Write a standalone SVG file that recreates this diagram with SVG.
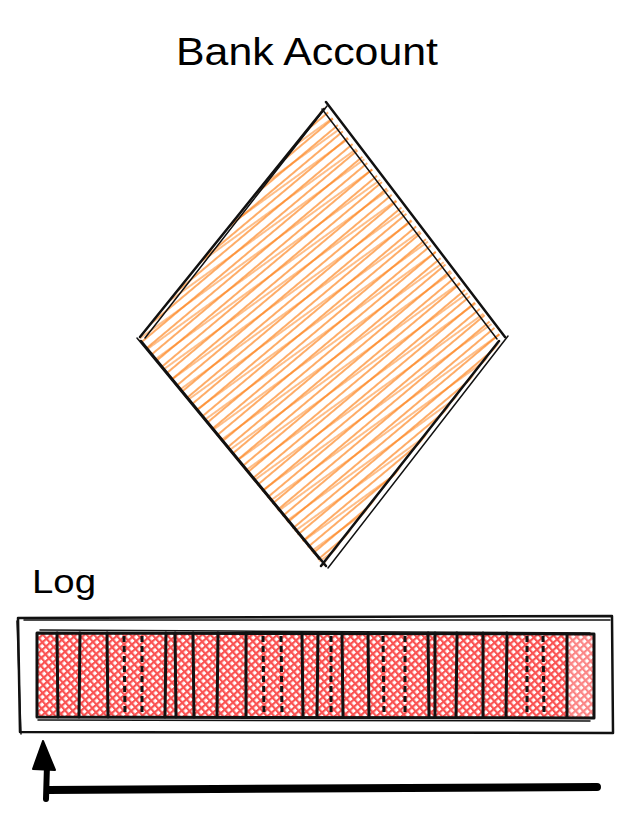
<svg xmlns="http://www.w3.org/2000/svg" width="632" height="820" viewBox="0 0 632 820">
<defs>
<pattern id="hach" patternUnits="userSpaceOnUse" width="8" height="8" patternTransform="rotate(-40)">
<line x1="0" y1="1" x2="8" y2="1" stroke="#fd7e14" stroke-width="1.3"/>
</pattern>
<pattern id="hach2" patternUnits="userSpaceOnUse" width="13" height="13" patternTransform="rotate(-36)">
<line x1="0" y1="5" x2="13" y2="5" stroke="#fd7e14" stroke-width="1"/>
</pattern>
<pattern id="cross" patternUnits="userSpaceOnUse" width="5.5" height="5.5" patternTransform="rotate(-41)">
<line x1="0" y1="1" x2="5.5" y2="1" stroke="#fa5252" stroke-width="2.4"/>
<line x1="1" y1="0" x2="1" y2="5.5" stroke="#fa5252" stroke-width="2.4"/>
</pattern>
</defs>
<style>
.t{font-family:"Liberation Sans",Arial,sans-serif;fill:#000}
.s{fill:none;stroke:#111;stroke-width:2.5;stroke-linecap:round;stroke-linejoin:round}
.c{fill:none;stroke:#111;stroke-width:3;stroke-linecap:round}
.thin{fill:none;stroke:#111;stroke-width:1.5;stroke-linecap:round}
.d{fill:none;stroke:#111;stroke-width:3;stroke-dasharray:6 4}
</style>
<rect width="632" height="820" fill="#fff"/>

<g id="title">
<text class="t" x="307" y="65" font-size="38" text-anchor="middle" textLength="262" lengthAdjust="spacingAndGlyphs">Bank Account</text>
</g>

<g id="account">
<path d="M324 107 L503 339 L323 566 L139 340 Z" fill="url(#hach)"/>
<path d="M324 107 L503 339 L323 566 L139 340 Z" fill="url(#hach2)"/>
<path class="s" d="M326 102 L505 337 M499 341 L321 566 M326 566 L141 341 M140 337 L324 109"/>
<path class="thin" d="M322 109 L497 339 M508 336 L328 568 M319 559 L137 338 M145 338 L327 106"/>
</g>

<g id="log-label">
<text class="t" x="32" y="593" font-size="34" textLength="64" lengthAdjust="spacingAndGlyphs">Log</text>
</g>

<g id="log">
<path class="s" d="M18 618 L612 616 L613 733 L20 732 Z"/>
<path class="thin" d="M24 620 L610 620 M17 621 L21 734"/>
</g>

<g id="entries">
<rect x="37" y="633" width="557" height="84" fill="url(#cross)"/>
<rect x="567" y="633" width="27" height="84" fill="#fff" opacity="0.3"/>
<path class="c" d="M37 633 L594 634 M37 717 L594 718 M37 633 L37 717 M594 634 L594 718"/>
<path class="thin" d="M40 630 L230 631 M230 631 L590 633 M38 720 L590 721"/>
<path class="c" d="M57 633 L58 717 M80 633 L79 717 M107 633 L108 717 M166 633 L165 717 M175 633 L176 717 M193 633 L194 717 M218 633 L217 717 M246 633 L246 717 M302 633 L303 717 M318 633 L317 717 M342 633 L343 717 M368 633 L369 717 M428 633 L429 717 M435 633 L435 717 M457 633 L456 717 M483 633 L483 717 M507 633 L506 717 M567 634 L567 717"/>
<path class="d" d="M124 636 L125 715 M142 636 L142 715 M263 636 L264 715 M281 636 L282 715 M331 636 L331 715 M383 636 L384 715 M405 636 L405 715 M527 636 L527 715 M543 636 L544 715"/>
</g>

<g id="connectors">
<path d="M48 790 L597 787" fill="none" stroke="#000" stroke-width="8" stroke-linecap="round"/>
<path d="M46 799 L47 765" fill="none" stroke="#000" stroke-width="6" stroke-linecap="round"/>
<path d="M43 741 L33 769 L55 770 Z" fill="#000" stroke="#000" stroke-width="2" stroke-linejoin="round"/>
</g>
</svg>
